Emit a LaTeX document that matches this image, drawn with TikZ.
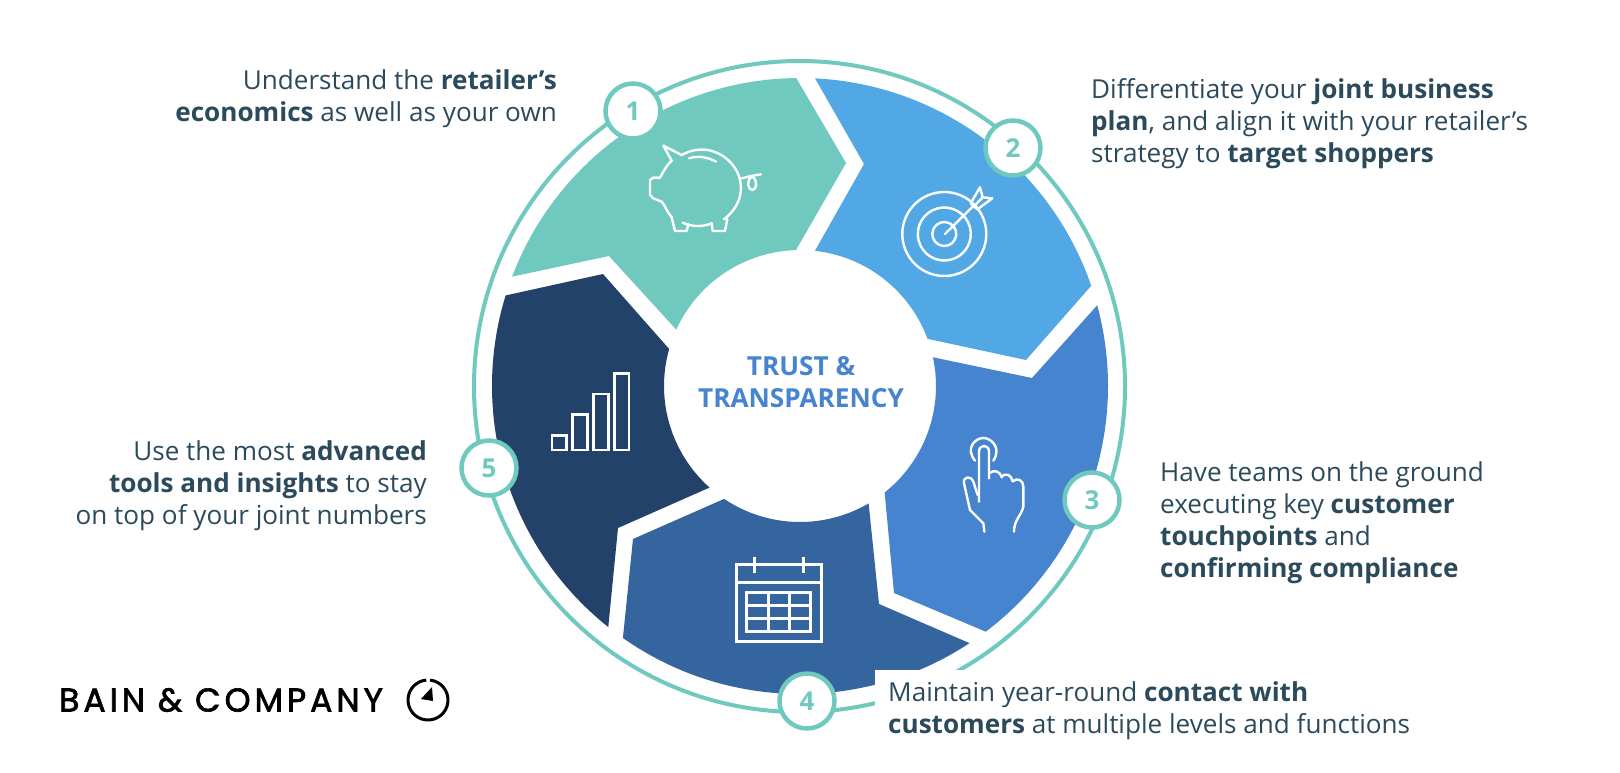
\documentclass[tikz,border=0pt]{standalone}
\usepackage{fontspec}
\setmainfont{Open Sans}
\newfontfamily\logofont[LetterSpace=12.2,FakeBold=2]{Poppins}
\usepackage{xcolor}
\usepackage{tikz}
\usetikzlibrary{positioning}
\definecolor{tealring}{HTML}{70C9BF}
\definecolor{skyseg}{HTML}{52A7E5}
\definecolor{midseg}{HTML}{4784D0}
\definecolor{steelseg}{HTML}{35659E}
\definecolor{navyseg}{HTML}{22426A}
\definecolor{ink}{HTML}{2B4A5C}
\tikzset{
  blurb/.style={text=ink, inner sep=0pt, font=\fontsize{26.1}{32}\selectfont},
  blurbr/.style={blurb, align=right, anchor=east},
  blurbl/.style={blurb, align=left, anchor=west},
  numdot/.style={draw=tealring, line width=4.5pt, circle, fill=white, minimum size=55pt, inner sep=0pt, text=tealring, font=\fontsize{26}{30}\selectfont\bfseries},
  icon/.style={draw=white, line width=2.4pt, line join=round, line cap=round},
  boxicon/.style={draw=white, line width=2.4pt, line join=miter, line cap=butt},
  hubtext/.style={text=midseg, align=center, inner sep=0pt, font=\fontsize{26.2}{32}\selectfont\bfseries}
}

\begin{document}
\begin{tikzpicture}[x=1pt, y=-1pt]
  \useasboundingbox (0,0) rectangle (1620,772);
  \fill[white] (0,0) rectangle (1620,772);
  \coordinate (hub) at (800,386);

  % ring
  \draw[tealring, line width=4pt] (799.5,386.5) circle[radius=325.5pt];

  % segments
  \fill[tealring] ([shift={(hub)}]159.2:308pt) arc[start angle=159.2, end angle=90.7, radius=308pt] -- (846,163) -- ([shift={(hub)}]91.7:136pt) arc[start angle=91.7, end angle=155.5, radius=136pt] -- (609,256) -- cycle;
  \fill[skyseg] ([shift={(hub)}]87.2:308pt) arc[start angle=87.2, end angle=19, radius=308pt] -- (1026,360) -- ([shift={(hub)}]20.3:136pt) arc[start angle=20.3, end angle=83.7, radius=136pt] -- (864,164) -- cycle;
  \fill[midseg] ([shift={(hub)}]15.2:308pt) arc[start angle=15.2, end angle=-52.9, radius=308pt] -- (894,593) -- ([shift={(hub)}]-51.5:136pt) arc[start angle=-51.5, end angle=12.2, radius=136pt] -- (1032,378) -- cycle;
  \fill[steelseg] ([shift={(hub)}]-56.6:308pt) arc[start angle=-56.6, end angle=-125.1, radius=308pt] -- (633,539) -- ([shift={(hub)}]-123.9:136pt) arc[start angle=-123.9, end angle=-59.7, radius=136pt] -- (879,604) -- cycle;
  \fill[navyseg] ([shift={(hub)}]231.5:308pt) arc[start angle=231.5, end angle=162.9, radius=308pt] -- (603,274) -- ([shift={(hub)}]164.2:136pt) arc[start angle=164.2, end angle=228.3, radius=136pt] -- (618,528) -- cycle;

  % patch behind the fourth text
  \fill[white] (875,670) rectangle (1420,745);

  % piggy
  \begin{scope}[shift={(620,130)}, x=0.3333pt, y=-0.3333pt]
    \draw[icon] (155,92) -- (130,47) -- (185,75) .. controls (215,58) and (255,52) .. (290,68) .. controls (345,92) and (375,150) .. (358,205) .. controls (350,230) and (335,250) .. (312,268);
    \draw[icon] (322,268) -- (315,303) -- (278,303) -- (275,280) .. controls (245,292) and (215,290) .. (188,278);
    \draw[icon] (205,283) -- (200,303) -- (165,303) -- (155,262) .. controls (140,245) and (135,225) .. (125,215) -- (100,205) -- (90,195) -- (90,150) -- (100,143) -- (120,143) .. controls (130,125) and (140,105) .. (155,92);
    \draw[icon] (207,85) .. controls (235,76) and (265,82) .. (288,95);
    \draw[icon] (365,145) .. controls (385,140) and (405,135) .. (423,133);
    \draw[icon] (398,139) .. controls (375,150) and (385,182) .. (398,180) .. controls (412,178) and (412,150) .. (398,139);
  \end{scope}

  % target
  \coordinate (bull) at (944.3,234);
  \draw[icon] (bull) ++(61:42pt) arc[start angle=61, end angle=-334, radius=42pt];
  \draw[icon] (bull) ++(60:26.5pt) arc[start angle=60, end angle=-329, radius=26.5pt];
  \draw[icon] (bull) ++(63:12pt) arc[start angle=63, end angle=-332, radius=12pt];
  \begin{scope}[shift={(880,170)}, x=0.3333pt, y=-0.3333pt]
    \draw[icon] (195,192) -- (283,105);
    \draw[icon] (272,100) -- (300,52) -- (308,82) -- (337,85) -- (292,118) -- cycle;
    \draw[icon] (283,108) -- (308,82);
  \end{scope}

  % hand
  \begin{scope}[shift={(940,420)}, x=0.3333pt, y=-0.3333pt]
    \draw[icon] (105,122) .. controls (75,85) and (105,54) .. (130,54) .. controls (155,54) and (185,85) .. (160,122);
    \draw[icon] (117,245) -- (117,95) .. controls (117,72) and (147,72) .. (147,95) -- (147,175);
    \draw[icon] (148,160) .. controls (160,148) and (180,152) .. (185,172) .. controls (195,155) and (215,165) .. (218,184) .. controls (232,172) and (250,180) .. (250,200) -- (250,260) .. controls (245,285) and (222,300) .. (222,335);
    \draw[icon] (113,225) -- (100,185) .. controls (92,165) and (68,170) .. (72,190) -- (90,270) -- (130,310) -- (133,335);
  \end{scope}

  % calendar
  \begin{scope}[shift={(720,550)}, x=0.3333pt, y=-0.3333pt]
    \draw[boxicon] (50,44) rectangle (304,275);
    \draw[boxicon] (50,98) -- (304,98);
    \draw[boxicon] (104,20) -- (104,68);
    \draw[boxicon] (250,20) -- (250,68);
    \draw[boxicon] (80,128) rectangle (272,244);
    \foreach \gx in {145,208} \draw[boxicon] (\gx,128) -- (\gx,244);
    \foreach \gy in {167,205} \draw[boxicon] (80,\gy) -- (272,\gy);
  \end{scope}

  % bars
  \begin{scope}[shift={(530,360)}, x=0.3333pt, y=-0.3333pt]
    \draw[boxicon] (66,226) rectangle (110,270);
    \draw[boxicon] (128,164) rectangle (172,270);
    \draw[boxicon] (190,102) rectangle (235,270);
    \draw[boxicon] (253,40) rectangle (297,270);
  \end{scope}

  % numbers
  \node[numdot] (n1) at (633,111) {1};
  \node[numdot] (n2) at (1013,148) {2};
  \node[numdot] (n3) at (1092,500) {3};
  \node[numdot] (n4) at (807,701) {4};
  \node[numdot] (n5) at (489,468) {5};

  % texts
  \node[blurbr] (t1) at (557,99) {Understand the \textbf{retailer’s}\\\textbf{economics} as well as your own};
  \node[blurbl] (t2) at (1091,124) {Differentiate your \textbf{joint business}\\\textbf{plan}, and align it with your retailer’s\\strategy to \textbf{target shoppers}};
  \node[blurbl] (t3) at (1160,523) {Have teams on the ground\\executing key \textbf{customer}\\\textbf{touchpoints} and\\\textbf{confirming compliance}};
  \node[blurbl] (t4) at (888,711) {Maintain year-round \textbf{contact with}\\\textbf{customers} at multiple levels and functions};
  \node[blurbr] (t5) at (427,486) {Use the most \textbf{advanced}\\\textbf{tools and insights} to stay\\on top of your joint numbers};
  \node[hubtext] (core) at (801,382) {TRUST \&\\TRANSPARENCY};

  % logo
  \node[anchor=west, inner sep=0pt, font=\fontsize{33}{36}\logofont] (brand) at (59,700) {BAIN \& COMPANY};
  \draw[black, line width=3pt] (428,700) ++(84:20pt) arc[start angle=84, end angle=-265, radius=20pt];
  \fill[black] (432,687) -- (421,699) -- (433,701) -- cycle;
\end{tikzpicture}
\end{document}
